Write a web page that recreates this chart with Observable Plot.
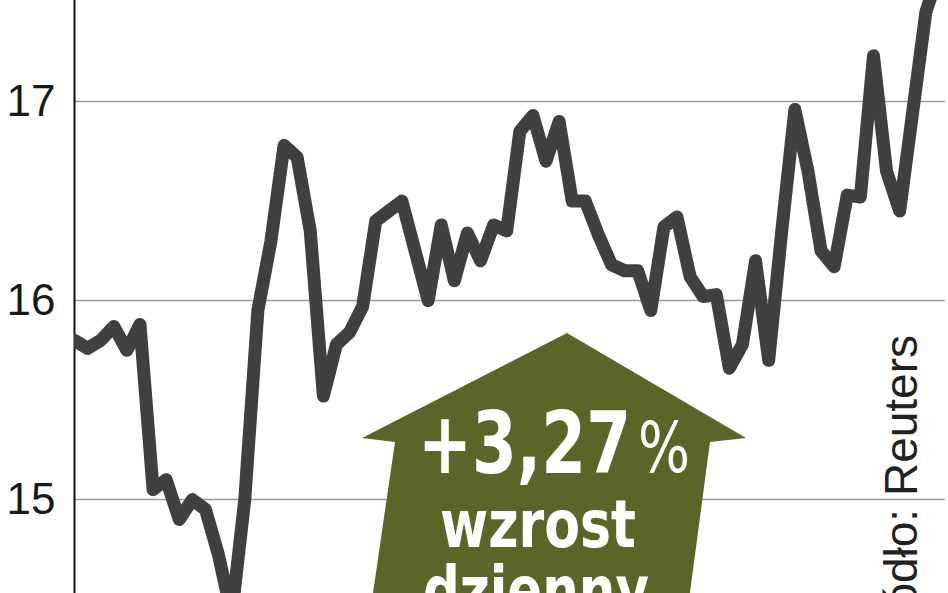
<!DOCTYPE html>
<html><head><meta charset="utf-8">
<script src="https://cdn.jsdelivr.net/npm/d3@7"></script>
<script src="https://cdn.jsdelivr.net/npm/@observablehq/plot@0.6"></script>
<style>
body{margin:0;background:#fff;}
#chart{position:relative;width:948px;height:593px;overflow:hidden;}
#chart svg{display:block;}
</style>
</head><body><div id="chart"></div>
<script>
// Session index (trading days) and closing prices
const sessions = d3.range(67);
const prices = [
  15.80, 15.76, 15.80, 15.87, 15.75, 15.88, 15.05, 15.10, 14.90, 15.00,
  14.95, 14.72, 14.42, 15.00, 15.95, 16.30, 16.78, 16.72, 16.35, 15.52,
  15.78, 15.84, 15.97, 16.40, 16.45, 16.50, 16.25, 16.00, 16.38, 16.10,
  16.34, 16.20, 16.38, 16.35, 16.85, 16.93, 16.70, 16.90, 16.50, 16.50,
  16.33, 16.18, 16.15, 16.15, 15.95, 16.37, 16.42, 16.12, 16.02, 16.03,
  15.66, 15.78, 16.20, 15.70, 16.35, 16.96, 16.65, 16.25, 16.17, 16.53,
  16.52, 17.23, 16.65, 16.45, 16.95, 17.45, 17.65
];
const yTicks = [15, 16, 17];
const changeValue = "+3,27";
const changeUnit = "%";
const changeWords = ["wzrost", "dzienny"];
const sourceLabel = "źródło: Reuters";

const data = sessions.map((s, i) => ({s, v: prices[i]}));

const plot = Plot.plot({
  width: 948, height: 593,
  marginLeft: 74, marginRight: 3, marginTop: 0, marginBottom: 0,
  x: {domain: [0, 66.5], axis: null},
  y: {domain: [14.528, 17.508], axis: null},
  style: {fontFamily: "'Liberation Sans', Arial, sans-serif", background: "#fff", color: "#111"},
  marks: [
    Plot.gridY(yTicks, {stroke: "#9a9a9a", strokeOpacity: 1, strokeWidth: 1.5}),
    Plot.axisY(yTicks, {tickSize: 0, tickPadding: 19, fontSize: 44, fill: "#1a1a1a", label: null, tickFormat: d => String(d)}),
    Plot.ruleX([0], {stroke: "#111", strokeWidth: 2}),
    Plot.line(data, {x: "s", y: "v", stroke: "#404040", strokeWidth: 13, strokeLinejoin: "round", strokeLinecap: "round", clip: true})
  ]
});
document.getElementById("chart").appendChild(plot);

// Annotation overlay: olive arrow with the daily change, and source text
const svg = d3.select(plot);
const g = svg.append("g").attr("text-anchor", "start");
const arrow = [[567,333],[746,438],[710,442],[689,600],[372,600],[395,442],[362,438]];
g.append("polygon").attr("points", arrow.map(p => p.join(",")).join(" ")).attr("fill", "#5c6428");
const narrow = "'Liberation Sans Narrow', 'DejaVu Sans', sans-serif";
function label(txt, x, y, size, len, bold) {
  g.append("text").text(txt).attr("x", x).attr("y", y)
    .attr("text-anchor", "start")
    .attr("font-family", narrow).attr("font-weight", bold ? "bold" : "normal").attr("font-size", size)
    .attr("font-stretch", "condensed").attr("fill", "#fff")
    .attr("textLength", len).attr("lengthAdjust", "spacingAndGlyphs");
}
label(changeValue, 418, 473, 86, 213, true);
label(changeUnit, 638, 472, 70, 52, false);
label(changeWords[0], 440, 547, 66, 196, true);
label(changeWords[1], 423, 613, 66, 226, true);
g.append("text").text(sourceLabel)
  .attr("transform", "translate(917,335) rotate(-90)")
  .attr("text-anchor", "end")
  .attr("font-family", "'Liberation Sans', Arial, sans-serif").attr("font-size", 46)
  .attr("fill", "#222").attr("stroke", "#fff").attr("stroke-width", 8).attr("paint-order", "stroke");
</script>
</body></html>
